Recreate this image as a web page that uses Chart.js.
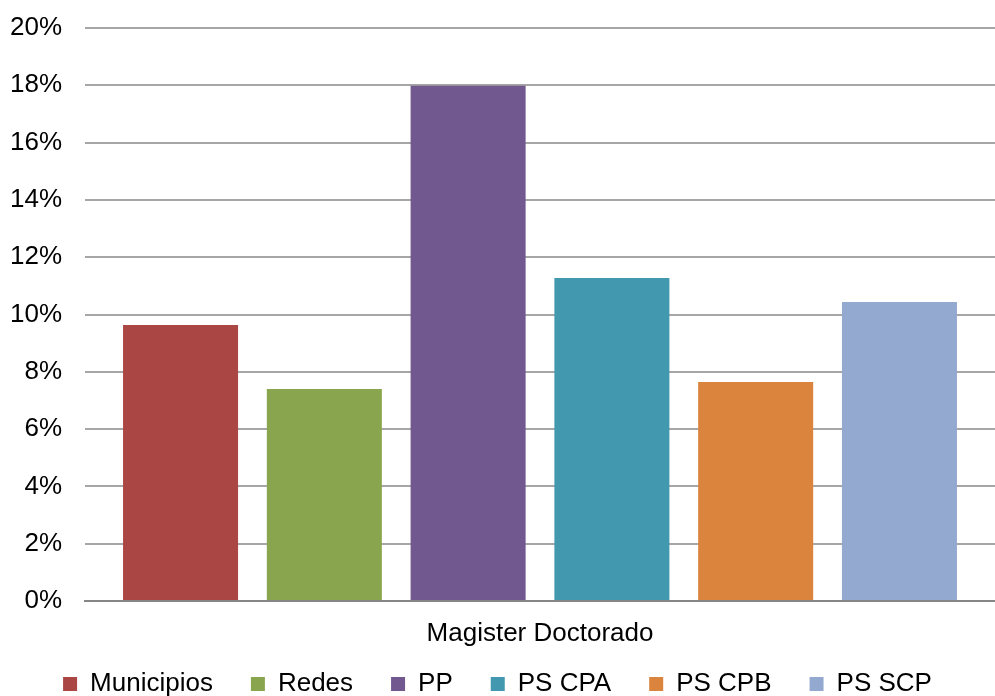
<!DOCTYPE html>
<html>
<head>
<meta charset="utf-8">
<script src="https://cdn.jsdelivr.net/npm/chart.js@4"></script>
<style>
  body { margin: 0; background: #fff; }
  #wrap { width: 995px; height: 696px; }
</style>
</head>
<body>
<div id="wrap"><canvas id="chart"></canvas></div>
<script>
const categories = ['Magister Doctorado'];
const seriesNames = ['Municipios', 'Redes', 'PP', 'PS CPA', 'PS CPB', 'PS SCP'];
const seriesValues = [0.0963, 0.074, 0.1798, 0.1127, 0.0764, 0.1044];
const seriesColors = ['#AA4643', '#89A54E', '#71588F', '#4198AF', '#DB843D', '#93A9CF'];

const font = { family: '"Liberation Sans", Arial, sans-serif', size: 26 };

const datasets = seriesNames.map((name, i) => ({
    label: name,
    data: [seriesValues[i]],
    backgroundColor: seriesColors[i],
    borderWidth: 0,
    barPercentage: 0.8,
    categoryPercentage: 0.948
}));

// pull the legend up so it sits close under the category label
// (only the top moves, the legend clips to its own box)
const legendShift = {
    id: 'legendShift',
    afterLayout: chart => {
        chart.legend.top -= 16;
    }
};

new Chart(document.getElementById('chart').getContext('2d'), {
    type: 'bar',
    data: { labels: categories, datasets: datasets },
    plugins: [legendShift],
    options: {
        responsive: true,
        maintainAspectRatio: false,
        animation: false,
        layout: { padding: 0 },
        scales: {
            x: {
                grid: { display: false },
                border: { display: true, color: '#868686', width: 2 },
                ticks: { color: '#000', font: font, padding: 9 },
                afterFit: scale => { scale.height = 48; }
            },
            y: {
                min: 0,
                max: 0.2,
                border: { display: false },
                grid: {
                    color: ctx => ctx.tick.value === 0 ? '#868686' : '#A6A6A6',
                    lineWidth: 2,
                    drawTicks: false
                },
                ticks: {
                    stepSize: 0.02,
                    color: '#000',
                    font: font,
                    padding: 23,
                    callback: v => Math.round(v * 100) + '%'
                },
                afterFit: scale => {
                    scale.width = 85;
                    scale.paddingTop = 28;
                }
            }
        },
        plugins: {
            legend: {
                position: 'bottom',
                maxHeight: 47,
                labels: {
                    color: '#000',
                    font: font,
                    boxWidth: 14,
                    boxHeight: 14,
                    padding: 38
                }
            },
            tooltip: { enabled: false }
        }
    }
});
</script>
</body>
</html>
